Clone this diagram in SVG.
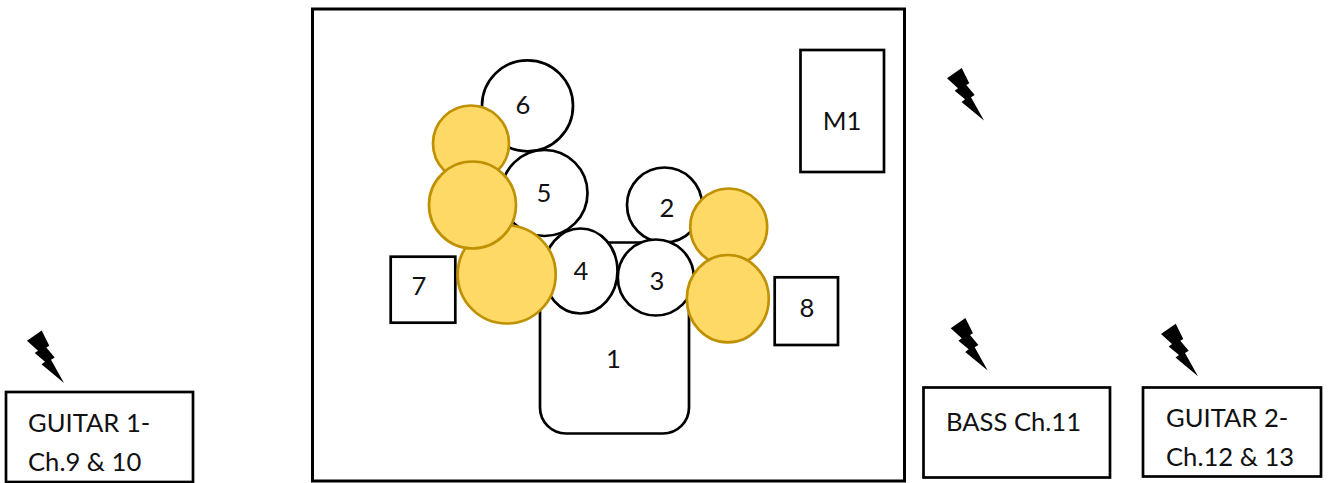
<svg xmlns="http://www.w3.org/2000/svg" xmlns:xlink="http://www.w3.org/1999/xlink" width="1339" height="483" viewBox="0 0 1339 483">
<style>
.b{fill:#fff;stroke:#000;stroke-width:2.700}
.y{fill:#ffd966;stroke:#bf9000;stroke-width:2.700}
.t{font-family:"Lato","Open Sans",sans-serif;font-size:25.600px;fill:#111;text-anchor:middle}
.l{font-family:"Lato","Open Sans",sans-serif;font-size:25.600px;fill:#111}
</style>
<defs>
<path id="bolt" d="M947 78.300L961.700 68L969.300 83.300L966.300 85L974.700 95L971 97.300L984 120.500L961.500 101.900L965 99.300L954.700 90.700L958 88.300Z" fill="#000"/>
</defs>
<rect id="stage" x="312.500" y="9" width="592" height="472" fill="#fff" stroke="#000" stroke-width="3"/>
<g id="node-1"><rect class="b" x="540" y="242.500" width="149" height="191" rx="26"/><text class="t" x="613.500" y="368">1</text></g>
<g id="node-6"><circle class="b" cx="527.500" cy="105.800" r="45.500"/><text class="t" x="523" y="114">6</text></g>
<g id="node-5"><circle class="b" cx="544.500" cy="193" r="43"/><text class="t" x="544" y="202">5</text></g>
<g id="node-4"><ellipse class="b" cx="580.500" cy="271" rx="37" ry="42.500"/><text class="t" x="581" y="280">4</text></g>
<g id="node-2"><circle class="b" cx="664.500" cy="205" r="37.500"/><text class="t" x="667" y="217">2</text></g>
<g id="node-3"><circle class="b" cx="655.800" cy="277.500" r="38"/><text class="t" x="657" y="290">3</text></g>
<g id="node-7"><rect class="b" x="390.700" y="256.700" width="64.600" height="66"/><text class="t" x="419" y="295">7</text></g>
<g id="node-8"><rect class="b" x="774.700" y="277.300" width="63.300" height="67.700"/><text class="t" x="807" y="317">8</text></g>
<g id="node-m1"><rect class="b" x="800.500" y="50" width="83.500" height="122"/><text class="t" x="842" y="130">M1</text></g>
<g id="marker-a"><circle class="y" cx="471" cy="143.500" r="38"/></g>
<g id="marker-b"><circle class="y" cx="506.700" cy="274.500" r="49"/></g>
<g id="marker-c"><circle class="y" cx="472.500" cy="205" r="43.500"/></g>
<g id="marker-d"><circle class="y" cx="728.700" cy="227" r="38.500"/></g>
<g id="marker-e"><ellipse class="y" cx="727.800" cy="298.700" rx="41" ry="43.700"/></g>
<g id="bolt-m1"><use xlink:href="#bolt" href="#bolt"/></g>
<g id="guitar-1"><use xlink:href="#bolt" href="#bolt" transform="translate(-920 262.400)"/><rect class="b" x="6" y="392" width="187" height="90"/><text class="l" x="28" y="432">GUITAR 1-</text><text class="l" x="28" y="471">Ch.9 &amp; 10</text></g>
<g id="bass"><use xlink:href="#bolt" href="#bolt" transform="translate(3.700 250)"/><rect class="b" x="923.500" y="387.500" width="186.500" height="90"/><text class="l" x="946" y="431">BASS Ch.11</text></g>
<g id="guitar-2"><use xlink:href="#bolt" href="#bolt" transform="translate(214 255.700)"/><rect class="b" x="1143" y="387.500" width="178" height="89"/><text class="l" x="1166" y="427">GUITAR 2-</text><text class="l" x="1166" y="466">Ch.12 &amp; 13</text></g>
</svg>
